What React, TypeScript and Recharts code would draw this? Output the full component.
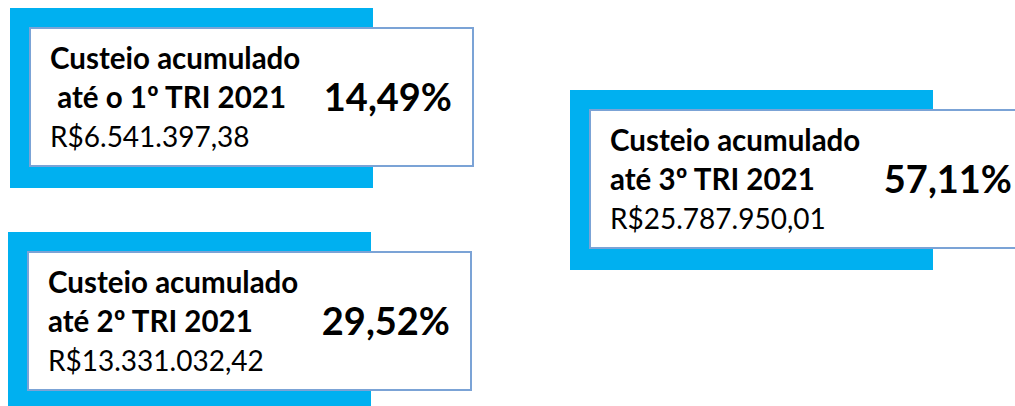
import { ScatterChart, Scatter, XAxis, YAxis } from 'recharts';

const titles = ['Custeio acumulado', 'Custeio acumulado', 'Custeio acumulado'];
const periods = [' até o 1º TRI 2021', 'até 2º TRI 2021', 'até 3º TRI 2021'];
const amounts = ['R$6.541.397,38', 'R$13.331.032,42', 'R$25.787.950,01'];
const percents = ['14,49%', '29,52%', '57,11%'];

// top-left corner of each white card on the page
const cardSpots = [
  { x: 30, y: 28 },
  { x: 28, y: 252 },
  { x: 590, y: 110 },
];

const W = 1015;
const H = 406;
const FONT = 'Lato, "Open Sans", sans-serif';

const cards = titles.map((t, i) => ({
  x: cardSpots[i].x,
  y: cardSpots[i].y,
  title: t,
  period: periods[i],
  amount: amounts[i],
  percent: percents[i],
}));

const Card = (props: any) => {
  const { cx, cy, payload } = props;
  if (cx == null || cy == null) return null;
  return (
    <g>
      <rect x={cx - 20} y={cy - 20} width={363} height={180} fill="#00b0f0" />
      <rect
        x={cx}
        y={cy}
        width={443}
        height={138}
        fill="#ffffff"
        stroke="#7ba3d6"
        strokeWidth={2}
      />
      <text x={cx + 20} y={cy + 41} fontFamily={FONT} fontWeight={700} fontSize={29.5} fill="#000">
        {payload.title}
      </text>
      <text
        x={cx + 20}
        y={cy + 80}
        fontFamily={FONT}
        fontWeight={700}
        fontSize={29.5}
        fill="#000"
        style={{ whiteSpace: 'pre' }}
      >
        {payload.period}
      </text>
      <text x={cx + 20} y={cy + 119} fontFamily={FONT} fontSize={28} fill="#000">
        {payload.amount}
      </text>
      <text
        x={cx + 422}
        y={cy + 83}
        textAnchor="end"
        fontFamily={FONT}
        fontWeight={700}
        fontSize={38}
        fill="#000"
      >
        {payload.percent}
      </text>
    </g>
  );
};

export default function App() {
  return (
    <div style={{ position: 'absolute', left: 0, top: 0, width: W, height: H, background: '#fff', overflow: 'hidden' }}>
      <ScatterChart width={W} height={H} margin={{ top: 0, right: 0, bottom: 0, left: 0 }}>
        <XAxis type="number" dataKey="x" domain={[0, W]} hide />
        <YAxis type="number" dataKey="y" domain={[0, H]} reversed hide />
        <Scatter data={cards} shape={<Card />} isAnimationActive={false} />
      </ScatterChart>
    </div>
  );
}
